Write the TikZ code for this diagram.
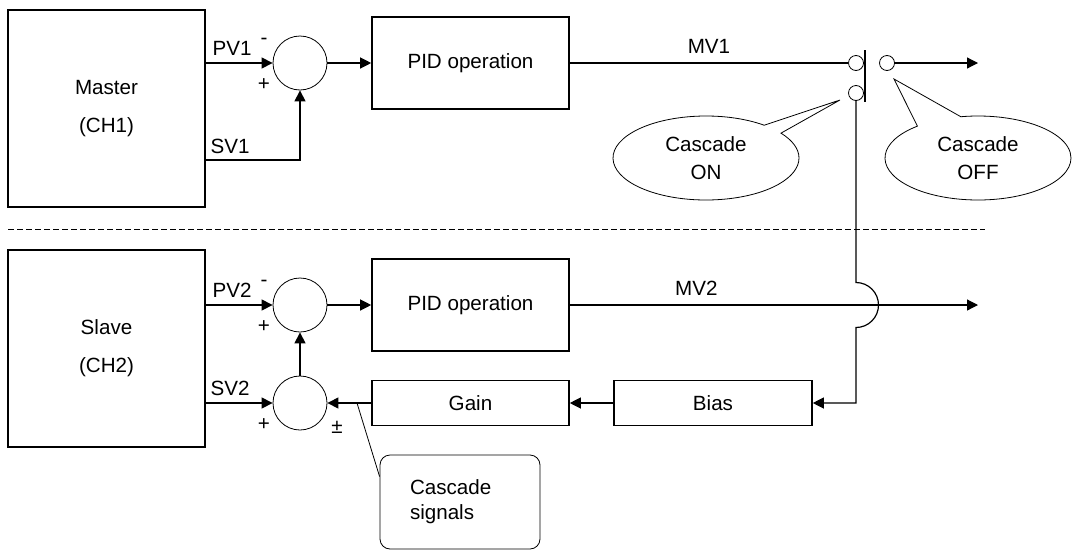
\documentclass[tikz,border=0pt]{standalone}
\usepackage{fontspec}
\setmainfont{Liberation Sans}
\usetikzlibrary{arrows.meta,shapes.callouts,calc}

\begin{document}
\begin{tikzpicture}[x=0.5pt, y=-0.5pt,
    blk/.style={draw, line width=0.8pt, minimum width=98.5pt, align=center, font=\fontsize{10.3}{19}\selectfont},
    sum/.style={draw, circle, line width=0.4pt, minimum size=27pt, inner sep=0pt},
    cnt/.style={draw, circle, line width=0.4pt, minimum size=7.5pt, inner sep=0pt, fill=white},
    arr/.style={-{Triangle[length=5.5pt, width=5.5pt]}, line width=0.6pt},
    ln/.style={line width=0.6pt},
    lbl/.style={font=\fontsize{10.3}{12}\selectfont, inner sep=0pt},
    bubble/.style={ellipse callout, draw, line width=0.4pt, minimum width=93pt, minimum height=42pt, align=center, font=\fontsize{10.3}{14}\selectfont},
    note/.style={draw, rounded corners=5pt, line width=0.4pt, minimum width=80pt, minimum height=47pt, text width=50pt, align=left, font=\fontsize{10.3}{12.5}\selectfont}
]
\useasboundingbox (0,0) rectangle (1076,552);

\node[blk, minimum height=98.5pt] (master) at (106.5,108.5) {Master\\(CH1)};
\node[blk, minimum height=98.5pt] (slave) at (106.5,348.5) {Slave\\(CH2)};
\node[blk, minimum height=46pt] (pid1) at (470.5,63) {PID operation};
\node[blk, minimum height=46pt] (pid2) at (470.5,305) {PID operation};
\node[blk, minimum height=22.5pt] (gain) at (470.5,403) {Gain};
\node[blk, minimum height=22.5pt, minimum width=99pt] (bias) at (713,403) {Bias};

\node[sum] (sum1) at (300,63) {};
\node[sum] (sum2) at (300,305) {};
\node[sum] (sum3) at (300,403) {};

\node[cnt] (sw1) at (856,63) {};
\node[cnt] (sw2) at (887,63) {};
\node[cnt] (sw3) at (856,93) {};

\coordinate (sv1) at (300,160);
\coordinate (out1) at (978,63);
\coordinate (out2) at (978,305);
\coordinate (jump) at (856,282.5);
\coordinate (onTip) at (840,100);
\coordinate (offTip) at (894,79);
\coordinate (sigTip) at (357,403);

\node[lbl] (pv1) at (232,48) {PV1};
\node[lbl] (sv1l) at (230,146) {SV1};
\node[lbl] (pv2) at (232,290) {PV2};
\node[lbl] (sv2l) at (230,388) {SV2};
\node[lbl] (m1) at (264,41) {-};
\node[lbl] (p1) at (264,85) {+};
\node[lbl] (m2) at (264,283) {-};
\node[lbl] (p2) at (264,327) {+};
\node[lbl] (p3) at (264,425) {+};
\node[lbl] (pm3) at (337,427) {±};

\draw[arr] (master.east |- sum1) -- (sum1);
\draw[arr] (master.east |- sv1) -- (sv1) -- (sum1);
\draw[arr] (sum1) -- (pid1);
\draw[ln] (pid1) -- node[lbl, above=4.5pt] {MV1} (sw1);
\draw[arr] (sw2) -- (out1);
\draw[ln] (865,50) -- (865,102);

\draw[line width=0.5pt, dash pattern=on 3pt off 1.5pt] (8,229) -- (985,229);

\draw[arr] (slave.east |- sum2) -- (sum2);
\draw[arr] (slave.east |- sum3) -- (sum3);
\draw[arr] (sum3) -- (sum2);
\draw[arr] (sum2) -- (pid2);
\draw[arr] (pid2) -- node[lbl, above=4.5pt, pos=0.31] {MV2} (out2);
\draw[arr] (gain) -- (sum3);
\draw[arr] (bias) -- (gain);
\draw[arr] (sw3) -- (jump) arc[start angle=-90, end angle=90, radius=22.5] -- (sw3 |- bias) -- (bias);

\node[bubble, callout absolute pointer={(onTip)}] (on) at (706,158) {Cascade\\ON};
\node[bubble, callout absolute pointer={(offTip)}, callout pointer arc=30] (off) at (978,158) {Cascade\\OFF};

\node[note] (sig) at (460,502) {Cascade\\signals};
\draw[line width=0.4pt] (sigTip) -- ($(sig.north west)+(0,22)$);
\end{tikzpicture}
\end{document}
